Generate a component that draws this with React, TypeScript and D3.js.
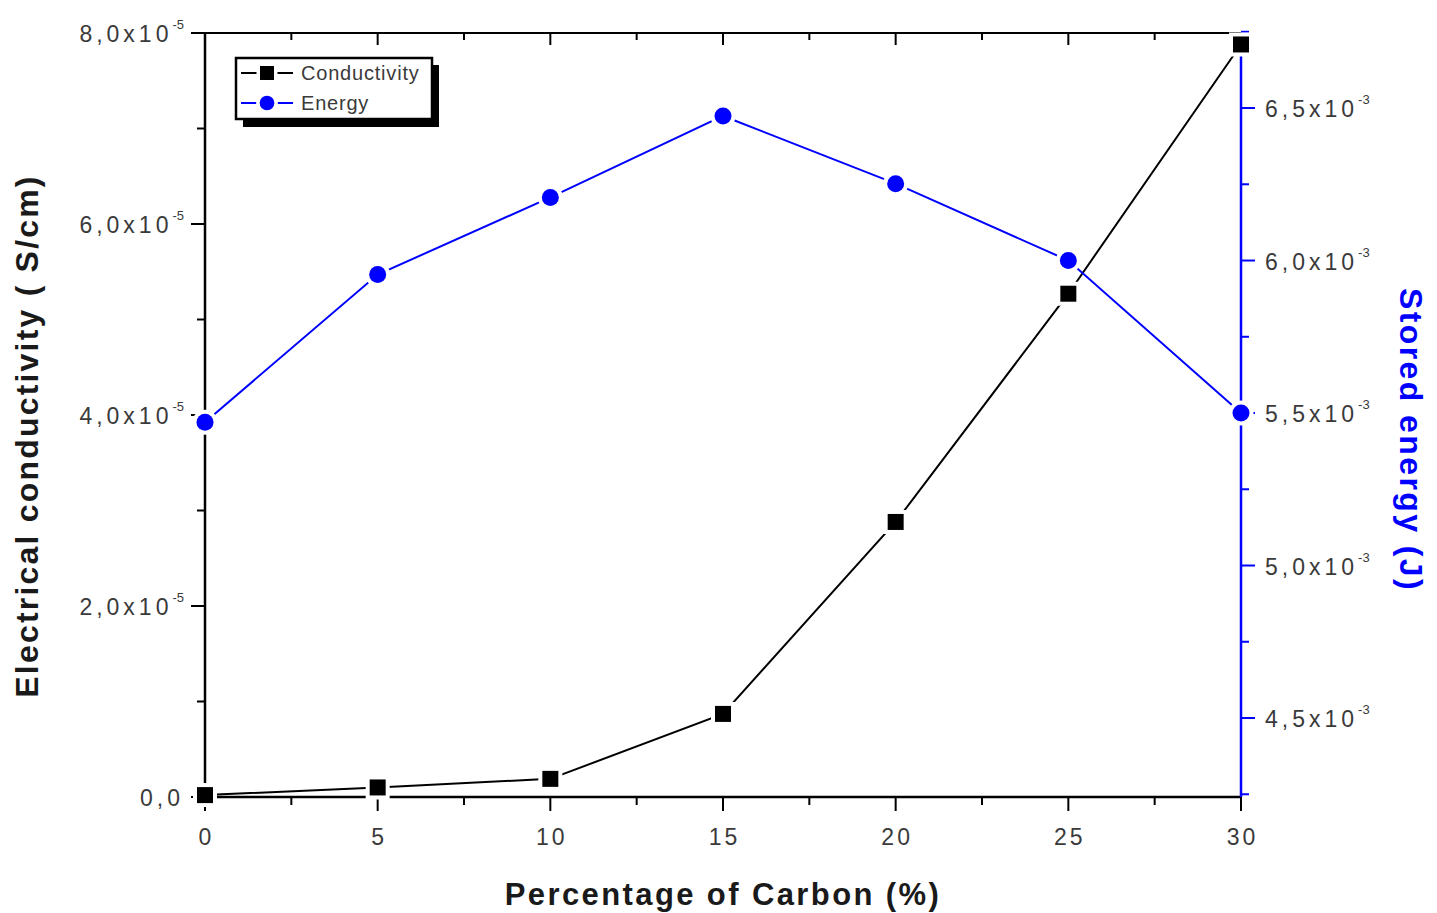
import * as React from 'react';
import { useRef, useEffect } from 'react';
import * as d3 from 'd3';

const carbon = [0, 5, 10, 15, 20, 25, 30];
const conductivity = [0.02e-5, 0.1e-5, 0.19e-5, 0.87e-5, 2.88e-5, 5.27e-5, 7.88e-5];
const energy = [5.47e-3, 5.954e-3, 6.207e-3, 6.474e-3, 6.252e-3, 6.0e-3, 5.5e-3];

const xTicks = [0, 5, 10, 15, 20, 25, 30];
const leftTicks = [0, 2e-5, 4e-5, 6e-5, 8e-5];
const leftTickLabels = ['0,0', '2,0', '4,0', '6,0', '8,0'];
const rightTicks = [4.5e-3, 5.0e-3, 5.5e-3, 6.0e-3, 6.5e-3];
const rightTickLabels = ['4,5', '5,0', '5,5', '6,0', '6,5'];

const W = 1437;
const H = 913;
const FONT = '"Liberation Sans", Arial, sans-serif';
const LABEL = '#3a3a3a';

const App = () => {
  const svgRef = useRef(null);

  useEffect(() => {
    const svg = d3.select(svgRef.current);
    svg.selectAll('*').remove();

    const left = 205, right = 1241, top = 33, bottom = 797;
    const x = d3.scaleLinear().domain([0, 30]).range([left, right]);
    const yL = d3.scaleLinear().domain([0, 8e-5]).range([bottom, top]);
    const yR = d3.scaleLinear().domain([4.241e-3, 6.746e-3]).range([bottom, top]);

    // top border with inward ticks
    const xMinor = d3.range(0, 30.01, 2.5);
    svg.append('line').attr('x1', left).attr('x2', right).attr('y1', top).attr('y2', top)
      .attr('stroke', '#000').attr('stroke-width', 2);
    svg.append('g').selectAll('line').data(xMinor).join('line')
      .attr('x1', d => x(d)).attr('x2', d => x(d)).attr('y1', top)
      .attr('y2', d => top + (d % 5 === 0 ? 12 : 7))
      .attr('stroke', '#000').attr('stroke-width', 2);

    // bottom axis
    const gx = svg.append('g').attr('transform', `translate(0,${bottom})`);
    gx.append('line').attr('x1', left - 1).attr('x2', right).attr('stroke', '#000').attr('stroke-width', 2.5);
    gx.selectAll('line.t').data(xMinor).join('line').attr('class', 't')
      .attr('x1', d => x(d)).attr('x2', d => x(d)).attr('y1', 0)
      .attr('y2', d => (d % 5 === 0 ? 14 : 8))
      .attr('stroke', '#000').attr('stroke-width', 2);
    gx.selectAll('text').data(xTicks).join('text')
      .attr('x', d => x(d) + 1.5).attr('y', 48).attr('text-anchor', 'middle')
      .attr('font-family', FONT).attr('font-size', 23).attr('letter-spacing', 3)
      .attr('fill', LABEL)
      .text(d => d);

    // left axis
    const lMinor = d3.range(0, 8.01e-5, 1e-5);
    const gl = svg.append('g');
    gl.append('line').attr('x1', left).attr('x2', left).attr('y1', top).attr('y2', bottom)
      .attr('stroke', '#000').attr('stroke-width', 2.5);
    gl.selectAll('line.t').data(lMinor).join('line').attr('class', 't')
      .attr('y1', d => yL(d)).attr('y2', d => yL(d)).attr('x1', left)
      .attr('x2', (d, i) => left - (i % 2 === 0 ? 14 : 8))
      .attr('stroke', '#000').attr('stroke-width', 2);
    gl.selectAll('text').data(leftTicks).join('text')
      .attr('x', 184).attr('y', d => yL(d) + 9).attr('text-anchor', 'end')
      .attr('font-family', FONT).attr('fill', LABEL)
      .each(function (d, i) {
        const t = d3.select(this);
        if (i === 0) {
          t.append('tspan').attr('font-size', 23).attr('letter-spacing', 4).text(leftTickLabels[i]);
        } else {
          t.append('tspan').attr('font-size', 23).attr('letter-spacing', 4).text(leftTickLabels[i] + 'x10');
          t.append('tspan').attr('dy', -13).attr('font-size', 13).text('-5');
        }
      });

    // right axis (blue)
    const rMinor = d3.range(4.25e-3, 6.751e-3, 0.25e-3);
    const gr = svg.append('g');
    gr.append('line').attr('x1', right).attr('x2', right).attr('y1', top).attr('y2', bottom)
      .attr('stroke', '#0000ff').attr('stroke-width', 2.5);
    gr.selectAll('line.t').data(rMinor).join('line').attr('class', 't')
      .attr('y1', d => yR(d)).attr('y2', d => yR(d)).attr('x1', right)
      .attr('x2', (d, i) => right + (i % 2 === 1 ? 14 : 8))
      .attr('stroke', '#0000ff').attr('stroke-width', 2);
    gr.selectAll('text').data(rightTicks).join('text')
      .attr('x', 1265).attr('y', d => yR(d) + 9).attr('text-anchor', 'start')
      .attr('font-family', FONT).attr('fill', LABEL)
      .each(function (d, i) {
        const t = d3.select(this);
        t.append('tspan').attr('font-size', 23).attr('letter-spacing', 4).text(rightTickLabels[i] + 'x10');
        t.append('tspan').attr('dy', -13).attr('font-size', 13).text('-3');
      });

    // axis titles
    svg.append('text').attr('x', 723).attr('y', 905).attr('text-anchor', 'middle')
      .attr('font-family', FONT).attr('font-weight', 'bold').attr('font-size', 31)
      .attr('letter-spacing', 2.4).attr('fill', '#1a1a1a')
      .text('Percentage of Carbon (%)');
    svg.append('text').attr('transform', 'translate(38,436) rotate(-90)')
      .attr('text-anchor', 'middle')
      .attr('font-family', FONT).attr('font-weight', 'bold').attr('font-size', 32)
      .attr('letter-spacing', 2.2).attr('fill', '#1a1a1a')
      .text('Electrical conductivity ( S/cm)');
    svg.append('text').attr('transform', 'translate(1400,440) rotate(90)')
      .attr('text-anchor', 'middle')
      .attr('font-family', FONT).attr('font-weight', 'bold').attr('font-size', 32)
      .attr('letter-spacing', 2.4).attr('fill', '#0000ff')
      .text('Stored energy (J)');

    // series
    const lineC = d3.line().x((d, i) => x(carbon[i])).y(d => yL(d));
    const lineE = d3.line().x((d, i) => x(carbon[i])).y(d => yR(d));
    svg.append('path').attr('d', lineC(conductivity)).attr('fill', 'none')
      .attr('stroke', '#000').attr('stroke-width', 2);
    svg.append('path').attr('d', lineE(energy)).attr('fill', 'none')
      .attr('stroke', '#0000ff').attr('stroke-width', 2);

    const sq = d3.symbol().type(d3.symbolSquare).size(256);
    const ci = d3.symbol().type(d3.symbolCircle).size(Math.PI * 8.5 * 8.5);
    svg.append('g').selectAll('path').data(conductivity).join('path')
      .attr('transform', (d, i) => `translate(${x(carbon[i])},${yL(d)})`)
      .attr('d', sq()).attr('fill', '#000')
      .attr('stroke', '#fff').attr('stroke-width', 8).attr('paint-order', 'stroke');
    svg.append('g').selectAll('path').data(energy).join('path')
      .attr('transform', (d, i) => `translate(${x(carbon[i])},${yR(d)})`)
      .attr('d', ci()).attr('fill', '#0000ff')
      .attr('stroke', '#fff').attr('stroke-width', 8).attr('paint-order', 'stroke');

    // legend
    const lg = svg.append('g');
    lg.append('rect').attr('x', 243).attr('y', 65).attr('width', 196).attr('height', 62).attr('fill', '#000');
    lg.append('rect').attr('x', 236).attr('y', 58).attr('width', 196).attr('height', 61)
      .attr('fill', '#fff').attr('stroke', '#000').attr('stroke-width', 2.5);
    const entries = [
      { name: 'Conductivity', color: '#000', sym: d3.symbol().type(d3.symbolSquare).size(196), y: 73 },
      { name: 'Energy', color: '#0000ff', sym: d3.symbol().type(d3.symbolCircle).size(170), y: 103 },
    ];
    entries.forEach(e => {
      lg.append('line').attr('x1', 241).attr('x2', 293).attr('y1', e.y).attr('y2', e.y)
        .attr('stroke', e.color).attr('stroke-width', 2);
      lg.append('path').attr('transform', `translate(267,${e.y})`).attr('d', e.sym())
        .attr('fill', e.color).attr('stroke', '#fff').attr('stroke-width', 7).attr('paint-order', 'stroke');
      lg.append('text').attr('x', 301).attr('y', e.y + 7)
        .attr('font-family', FONT).attr('font-size', 20).attr('letter-spacing', 0.8)
        .attr('fill', LABEL).text(e.name);
    });
  }, []);

  return (
    <svg ref={svgRef} width={W} height={H}
      style={{ position: 'absolute', left: 0, top: 0, background: '#fff', display: 'block' }} />
  );
};

export default App;
